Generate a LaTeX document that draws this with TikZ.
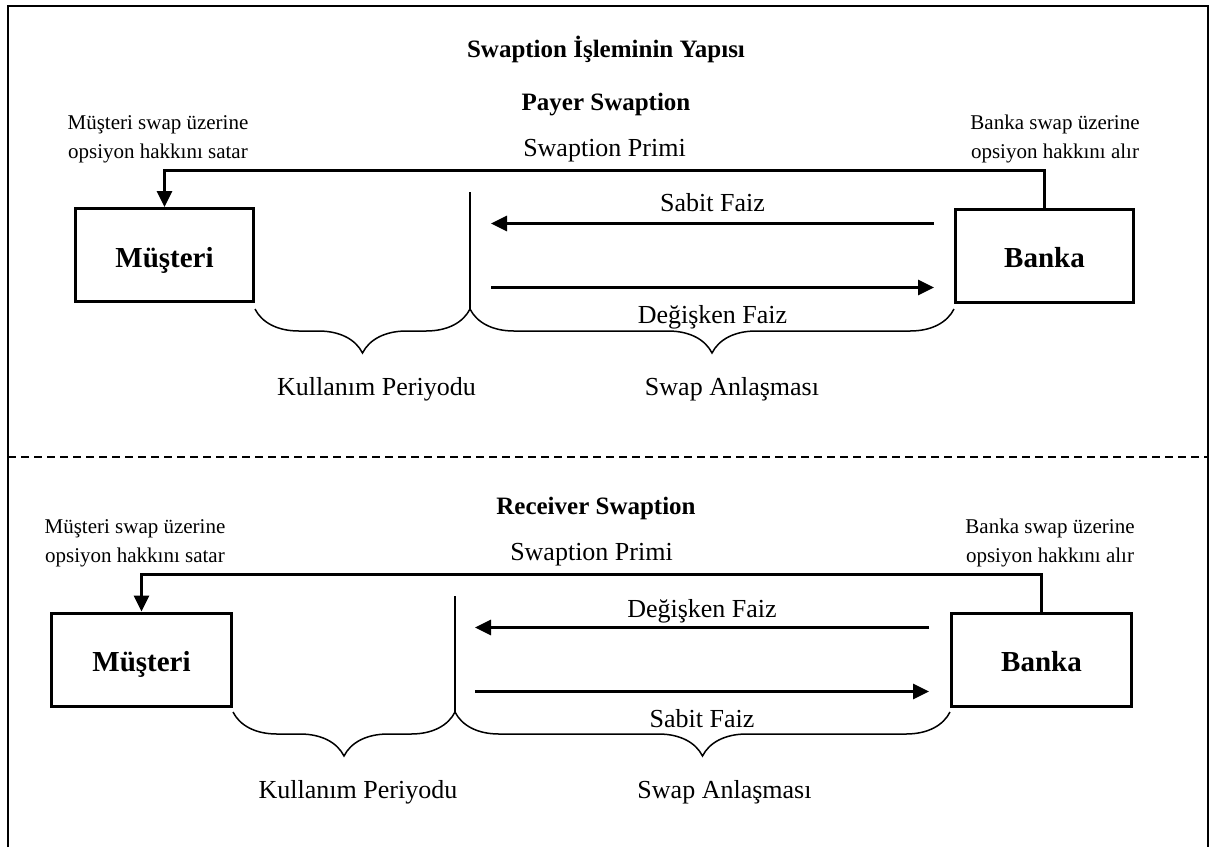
\documentclass[tikz,border=0pt]{standalone}
\usepackage{fontspec}
\setmainfont{Liberation Serif}
\usetikzlibrary{arrows.meta, positioning, calc, decorations.pathreplacing}

\begin{document}
\begin{tikzpicture}[
    x=1pt, y=-1pt,
    box/.style = {rectangle, draw=black, line width=3pt, minimum width=178pt, minimum height=93pt, text height=24pt, text depth=0pt, font=\fontsize{29}{33}\selectfont\bfseries},
    heading/.style = {font=\fontsize{25}{30}\selectfont\bfseries},
    note/.style = {align=center, font=\fontsize{21}{29}\selectfont},
    lbl/.style = {font=\fontsize{26}{30}\selectfont},
    flow/.style = {-{Triangle[length=16pt, width=15pt]}, line width=3pt},
    divider/.style = {line width=1.5pt},
    span/.style = {decorate, decoration={brace, mirror, amplitude=44pt}, line width=1.5pt}
]
    \useasboundingbox (0,0) rectangle (1212,847);

    % 1. Frame and separator
    \draw[line width=2.5pt] (8,847) -- (8,6) -- (1208,6) -- (1208,847);
    \draw[dash pattern=on 8pt off 5pt, line width=1.5pt] (8,457) -- (1208,457);

    \node[heading] (title) at (606,49) {Swaption İşleminin Yapısı};

    % 2. Payer swaption
    \node[heading] (payer) at (606,105) {Payer Swaption};
    \node[box] (mus_p) at (164.5,255) {Müşteri};
    \node[box] (banka_p) at (1044.5,255.5) {Banka};
    \node[note] (sat_p) at (158,139) {Müşteri swap üzerine\\opsiyon hakkını satar};
    \node[note] (al_p) at (1055,139) {Banka swap üzerine\\opsiyon hakkını alır};

    % premium from Banka to Müşteri
    \draw[flow] (banka_p.north) -- ++(0,-37) -| node[pos=0.25, above=4pt, lbl] {Swaption Primi} (mus_p.north);

    % exercise point
    \draw[divider] (470,192) coordinate (div_p) -- (470,309) coordinate (cut_p);

    % swap legs
    \draw[flow] ($(banka_p.west)+(-20,-32)$) -- node[above=7pt, lbl] {Sabit Faiz} ($(cut_p |- banka_p.west)+(21,-32)$);
    \draw[flow] ($(cut_p |- banka_p.west)+(21,32)$) -- node[below=13pt, lbl] {Değişken Faiz} ($(banka_p.west)+(-20,32)$);

    % periods
    \draw[span] (mus_p.south east |- cut_p) -- node[below=64pt, xshift=14pt, lbl] {Kullanım Periyodu} (cut_p);
    \draw[span] (cut_p) -- node[below=64pt, xshift=20pt, lbl] {Swap Anlaşması} (banka_p.south west |- cut_p);

    % 3. Receiver swaption
    \node[heading] (receiver) at (596,508) {Receiver Swaption};
    \node[box, minimum width=180pt] (mus_r) at (141.5,659.5) {Müşteri};
    \node[box, minimum width=180pt] (banka_r) at (1041.5,659.5) {Banka};
    \node[note] (sat_r) at (135,543) {Müşteri swap üzerine\\opsiyon hakkını satar};
    \node[note] (al_r) at (1050,543) {Banka swap üzerine\\opsiyon hakkını alır};

    % premium from Banka to Müşteri
    \draw[flow] (banka_r.north) -- ++(0,-37) -| node[pos=0.25, above=4pt, lbl] {Swaption Primi} (mus_r.north);

    % exercise point
    \draw[divider] (455,596) coordinate (div_r) -- (455,712) coordinate (cut_r);

    % swap legs
    \draw[flow] ($(banka_r.west)+(-21,-32)$) -- node[above, lbl] {Değişken Faiz} ($(cut_r |- banka_r.west)+(20,-32)$);
    \draw[flow] ($(cut_r |- banka_r.west)+(20,32)$) -- node[below=13pt, lbl] {Sabit Faiz} ($(banka_r.west)+(-21,32)$);

    % periods
    \draw[span] (mus_r.south east |- cut_r) -- node[below=64pt, xshift=14pt, lbl] {Kullanım Periyodu} (cut_r);
    \draw[span] (cut_r) -- node[below=64pt, xshift=22pt, lbl] {Swap Anlaşması} (banka_r.south west |- cut_r);
\end{tikzpicture}
\end{document}
